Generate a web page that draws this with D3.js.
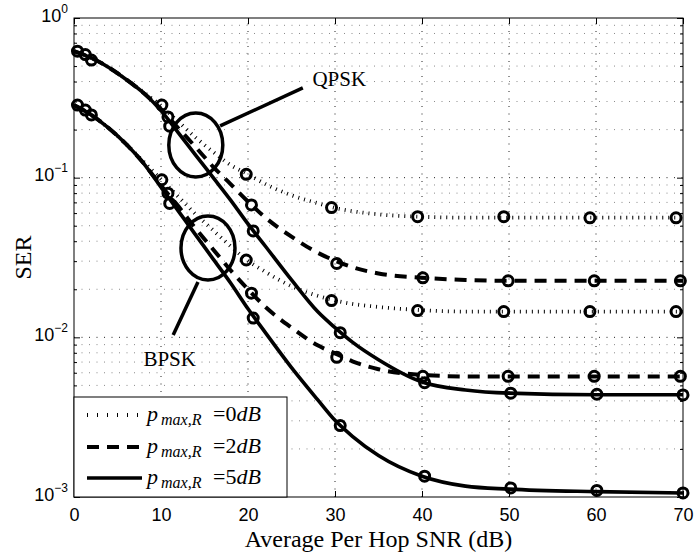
<!DOCTYPE html>
<html>
<head>
<meta charset="utf-8">
<script src="https://cdn.jsdelivr.net/npm/d3@7"></script>
<style>
  body { margin: 0; background: #fff; }
  svg { display: block; }
</style>
</head>
<body>
<div id="chart"></div>
<script>
// analytic curves (SNR in dB)
const snrGrid = [0, 2, 4, 6, 8, 10, 12, 14, 16, 18, 20, 22, 25, 28, 30, 32, 35, 40, 45, 50, 60, 70]

const qpskP0 = [0.62, 0.562, 0.49, 0.412, 0.343, 0.282, 0.224, 0.178, 0.145, 0.120, 0.105, 0.0912, 0.0776, 0.0692, 0.0646, 0.0617, 0.0589, 0.0569, 0.0562, 0.0562, 0.0562, 0.0562]
const qpskP2 = [0.62, 0.562, 0.49, 0.412, 0.339, 0.269, 0.204, 0.155, 0.117, 0.0912, 0.0708, 0.0562, 0.0427, 0.0339, 0.0302, 0.0275, 0.0251, 0.0236, 0.0229, 0.0226, 0.0226, 0.0226]
const qpskP5 = [0.62, 0.562, 0.49, 0.412, 0.339, 0.263, 0.191, 0.138, 0.100, 0.0724, 0.0513, 0.0372, 0.0229, 0.0145, 0.0115, 0.00933, 0.00724, 0.00525, 0.00468, 0.00447, 0.00437, 0.00437]

const bpskP0 = [0.285, 0.247, 0.204, 0.162, 0.126, 0.0977, 0.0759, 0.0589, 0.0468, 0.0372, 0.0302, 0.0257, 0.0209, 0.0182, 0.0170, 0.0162, 0.0155, 0.0148, 0.0145, 0.0145, 0.0145, 0.0145]
const bpskP2 = [0.285, 0.247, 0.204, 0.162, 0.123, 0.0891, 0.0661, 0.0479, 0.0355, 0.0263, 0.0200, 0.0155, 0.0115, 0.00891, 0.00794, 0.00708, 0.00631, 0.00582, 0.00569, 0.00568, 0.00568, 0.00568]
const bpskP5 = [0.285, 0.247, 0.204, 0.162, 0.123, 0.0871, 0.0617, 0.0437, 0.0309, 0.0219, 0.0151, 0.0107, 0.00646, 0.00407, 0.00302, 0.0024, 0.00182, 0.00135, 0.00117, 0.00112, 0.00108, 0.00106]

// simulated points (circles)
const markSnrP0 = [0.4, 10.1, 19.8, 29.6, 39.5, 49.4, 59.3, 69.2]
const markSnrP2 = [1.3, 10.8, 20.4, 30.2, 40.1, 49.9, 59.8, 69.7]
const markSnrP5 = [2.0, 11.0, 20.6, 30.6, 40.3, 50.2, 60.1, 70]

const qpskMarkP0 = [0.62, 0.285, 0.105, 0.065, 0.057, 0.057, 0.056, 0.056]
const qpskMarkP2 = [0.59, 0.24, 0.0675, 0.029, 0.0236, 0.0226, 0.0226, 0.0226]
const qpskMarkP5 = [0.545, 0.21, 0.0464, 0.0107, 0.0052, 0.00447, 0.0044, 0.00436]
const bpskMarkP0 = [0.285, 0.097, 0.0305, 0.017, 0.0147, 0.0145, 0.0145, 0.0145]
const bpskMarkP2 = [0.265, 0.08, 0.0189, 0.0075, 0.0057, 0.0057, 0.0057, 0.0057]
const bpskMarkP5 = [0.247, 0.069, 0.0132, 0.0028, 0.00135, 0.00114, 0.0011, 0.00106]

const pLabels = ['0', '2', '5']
const xTicks = [0, 10, 20, 30, 40, 50, 60, 70]
const yDecades = [1, 0.1, 0.01, 0.001]
const yExponents = ['0', '\u22121', '\u22122', '\u22123']

// annotations: [snr, ser]
const qpskEllipse = [14.0, 0.16]
const bpskEllipse = [15.4, 0.0363]
const qpskPointer = [[16.8, 0.211], [26.3, 0.365]]
const bpskPointer = [[14.25, 0.0222], [11.4, 0.01035]]
const qpskText = [27.4, 0.375]
const bpskText = [11.0, 0.00662]

const width = 694
const height = 557
const margin = { top: 18, right: 11, bottom: 60, left: 74 }

const serif = "'Liberation Serif', 'DejaVu Serif', serif"
const sans = "'Liberation Sans', Arial, sans-serif"

const dashFor = { '0': '1,5', '2': '12,8', '5': null }
const widthFor = { '0': 3.8, '2': 4, '5': 3.6 }

const svg = d3.select('#chart').append('svg')
    .attr('width', width)
    .attr('height', height)

const x = d3.scaleLinear()
    .domain([0, 70])
    .range([margin.left, width - margin.right])

const y = d3.scaleLog()
    .domain([1e-3, 1])
    .range([height - margin.bottom, margin.top])

const x0 = margin.left, x1 = width - margin.right
const y0 = height - margin.bottom, y1 = margin.top

// grid
const grid = svg.append('g').attr('class', 'grid')
const minorY = y.ticks().filter(v => yDecades.indexOf(v) < 0)

grid.selectAll('.gy-minor')
    .data(minorY)
    .enter().append('line')
        .attr('x1', x0).attr('x2', x1)
        .attr('y1', d => y(d)).attr('y2', d => y(d))
        .attr('stroke', '#8a8a8a')
        .attr('stroke-width', 1)
        .attr('stroke-dasharray', '1,6.5')

grid.selectAll('.gy-major')
    .data(yDecades.slice(1, 3))
    .enter().append('line')
        .attr('x1', x0).attr('x2', x1)
        .attr('y1', d => y(d)).attr('y2', d => y(d))
        .attr('stroke', '#222')
        .attr('stroke-width', 1)
        .attr('stroke-dasharray', '1,6.5')

grid.selectAll('.gx')
    .data(xTicks.slice(1, -1))
    .enter().append('line')
        .attr('x1', d => x(d)).attr('x2', d => x(d))
        .attr('y1', y0).attr('y2', y1)
        .attr('stroke', '#222')
        .attr('stroke-width', 1)
        .attr('stroke-dasharray', '1,6.5')

// curves
const line = d3.line()
    .x(d => x(d[0]))
    .y(d => y(d[1]))
    .curve(d3.curveMonotoneX)

const curves = [
    { p: '0', ser: qpskP0 }, { p: '0', ser: bpskP0 },
    { p: '2', ser: qpskP2 }, { p: '2', ser: bpskP2 },
    { p: '5', ser: qpskP5 }, { p: '5', ser: bpskP5 }
]

svg.append('g').attr('class', 'curves')
    .selectAll('path')
    .data(curves)
    .enter().append('path')
        .attr('d', d => line(snrGrid.map((s, i) => [s, d.ser[i]])))
        .attr('fill', 'none')
        .attr('stroke', '#000')
        .attr('stroke-width', d => widthFor[d.p])
        .attr('stroke-dasharray', d => dashFor[d.p])

// simulation markers
const marks = [
    { snr: markSnrP0, ser: qpskMarkP0 }, { snr: markSnrP0, ser: bpskMarkP0 },
    { snr: markSnrP2, ser: qpskMarkP2 }, { snr: markSnrP2, ser: bpskMarkP2 },
    { snr: markSnrP5, ser: qpskMarkP5 }, { snr: markSnrP5, ser: bpskMarkP5 }
]
const points = marks.flatMap(m => m.snr.map((s, i) => [s, m.ser[i]]))

svg.append('g').attr('class', 'marks')
    .selectAll('circle')
    .data(points)
    .enter().append('circle')
        .attr('cx', d => x(d[0]))
        .attr('cy', d => y(d[1]))
        .attr('r', 5)
        .attr('fill', 'none')
        .attr('stroke', '#000')
        .attr('stroke-width', 3)

// axes (matlab style: ticks inside, box on)
const axes = svg.append('g').attr('class', 'axes')

axes.append('g')
    .attr('transform', `translate(0, ${y0})`)
    .call(d3.axisBottom(x).tickValues(xTicks).tickSizeInner(-6).tickSizeOuter(0).tickPadding(11))
    .call(g => g.selectAll('text').style('font-family', sans).style('font-size', '18px').attr('fill', '#000'))

axes.append('g')
    .attr('transform', `translate(0, ${y1})`)
    .call(d3.axisTop(x).tickValues(xTicks).tickSizeInner(-6).tickSizeOuter(0).tickFormat(''))

axes.append('g')
    .attr('transform', `translate(${x0}, 0)`)
    .call(d3.axisLeft(y).tickValues(minorY).tickSizeInner(-3).tickSizeOuter(0).tickFormat(''))

axes.append('g')
    .attr('transform', `translate(${x1}, 0)`)
    .call(d3.axisRight(y).tickValues(minorY).tickSizeInner(-3).tickSizeOuter(0).tickFormat(''))

axes.append('g')
    .attr('transform', `translate(${x1}, 0)`)
    .call(d3.axisRight(y).tickValues(yDecades).tickSizeInner(-6).tickSizeOuter(0).tickFormat(''))

const yAxis = axes.append('g')
    .attr('transform', `translate(${x0}, 0)`)
    .call(d3.axisLeft(y).tickValues(yDecades).tickSizeInner(-6).tickSizeOuter(0).tickPadding(6).tickFormat(''))

yAxis.selectAll('.tick text')
    .attr('dy', '0.32em')
    .style('font-family', sans)
    .attr('fill', '#000')
    .each(function(d, i) {
        const t = d3.select(this)
        t.append('tspan').text('10').style('font-size', '18px')
        t.append('tspan').text(yExponents[i]).attr('dy', -9).style('font-size', '12px')
    })

axes.selectAll('.domain').remove()
axes.selectAll('line').attr('stroke', '#000')

svg.append('rect')
    .attr('x', x0).attr('y', y1)
    .attr('width', x1 - x0).attr('height', y0 - y1)
    .attr('fill', 'none')
    .attr('stroke', '#000')
    .attr('stroke-width', 1)

// axis titles
svg.append('text')
    .text('Average Per Hop SNR (dB)')
    .attr('x', (x0 + x1) / 2)
    .attr('y', 547)
    .attr('text-anchor', 'middle')
    .style('font-family', serif)
    .style('font-size', '24px')

svg.append('text')
    .text('SER')
    .attr('transform', `translate(31, ${(y0 + y1) / 2}) rotate(-90)`)
    .attr('text-anchor', 'middle')
    .style('font-family', serif)
    .style('font-size', '24px')

// ellipses + pointers
const ann = svg.append('g').attr('class', 'annotations')

ann.selectAll('ellipse')
    .data([qpskEllipse, bpskEllipse])
    .enter().append('ellipse')
        .attr('cx', d => x(d[0]))
        .attr('cy', d => y(d[1]))
        .attr('rx', 27)
        .attr('ry', 32)
        .attr('fill', 'none')
        .attr('stroke', '#000')
        .attr('stroke-width', 3.5)

ann.selectAll('.pointer')
    .data([qpskPointer, bpskPointer])
    .enter().append('line')
        .attr('class', 'pointer')
        .attr('x1', d => x(d[0][0])).attr('y1', d => y(d[0][1]))
        .attr('x2', d => x(d[1][0])).attr('y2', d => y(d[1][1]))
        .attr('stroke', '#000')
        .attr('stroke-width', 3.5)

ann.append('text')
    .text('QPSK')
    .attr('x', x(qpskText[0]))
    .attr('y', y(qpskText[1]))
    .style('font-family', serif)
    .style('font-size', '21px')

ann.append('text')
    .text('BPSK')
    .attr('x', x(bpskText[0]))
    .attr('y', y(bpskText[1]))
    .attr('text-anchor', 'middle')
    .style('font-family', serif)
    .style('font-size', '21px')

// legend
const legend = svg.append('g').attr('class', 'legend')
const rowY = [415, 447, 478]

legend.append('rect')
    .attr('x', x0).attr('y', 397)
    .attr('width', 213).attr('height', y0 - 397)
    .attr('fill', '#fff')
    .attr('stroke', '#000')
    .attr('stroke-width', 1)

const rows = legend.selectAll('.row')
    .data(pLabels)
    .enter().append('g')
        .attr('class', 'row')

rows.append('line')
    .attr('x1', 87).attr('x2', 142)
    .attr('y1', (d, i) => rowY[i]).attr('y2', (d, i) => rowY[i])
    .attr('stroke', '#000')
    .attr('stroke-width', d => widthFor[d])
    .attr('stroke-dasharray', d => d == '0' ? '1,9' : dashFor[d])

const label = rows.append('text')
    .attr('y', (d, i) => rowY[i] + 6)
    .style('font-family', serif)
    .style('font-size', '22px')

label.append('tspan').attr('x', 147).style('font-style', 'italic').text('p')
label.append('tspan').attr('x', 161).attr('dy', 4).style('font-style', 'italic').style('font-size', '16px').text('max,R')
label.append('tspan').attr('x', 213).attr('dy', -4).text(d => '=' + d)
label.append('tspan').style('font-style', 'italic').text('dB')
</script>
</body>
</html>
